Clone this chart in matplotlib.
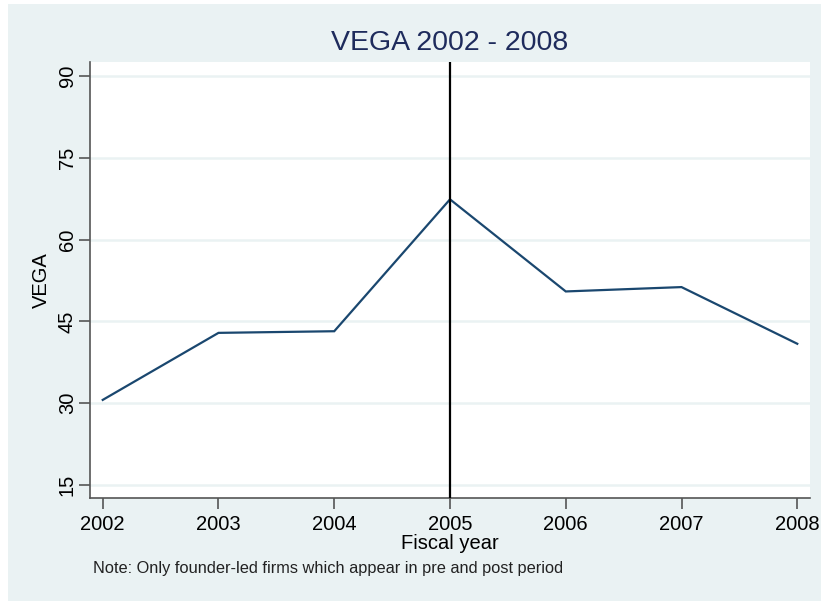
import matplotlib
matplotlib.use("Agg")
import matplotlib.pyplot as plt
from matplotlib.patches import Rectangle

# Data
years = [2002, 2003, 2004, 2005, 2006, 2007, 2008]
vega = [30.6, 42.9, 43.2, 67.4, 50.5, 51.3, 40.9]
y_ticks = [15, 30, 45, 60, 75, 90]
event_year = 2005

BG = "#EAF2F3"
NAVY = "#1A476F"

plt.rcParams["font.family"] = ["Liberation Sans", "DejaVu Sans"]

fig = plt.figure(figsize=(8.21, 6.02), dpi=100, facecolor="white")
W, H = 821, 602
fig.add_artist(Rectangle((8 / W, 1 / H), (W - 8) / W, (H - 5) / H,
                         transform=fig.transFigure, facecolor=BG,
                         edgecolor="none", zorder=-10))

ax = fig.add_axes([90 / W, 1 - 498 / H, 720 / W, 436 / H])
ax.set_zorder(1)
ax.set_facecolor("white")

ax.plot(years, vega, color=NAVY, lw=1.6, solid_joinstyle="miter", zorder=3)
ax.axvline(event_year, color="black", lw=1.6, zorder=4)

ax.set_xlim(2001.89, 2008.11)
ax.set_ylim(12.6, 92.6)
ax.set_xticks(years)
ax.set_yticks(y_ticks)
ax.set_yticklabels([str(v) for v in y_ticks], rotation=90, va="center")
ax.tick_params(axis="both", labelsize=14.5, length=8, width=1.2,
               color="#555555")
ax.tick_params(axis="x", pad=4)
ax.tick_params(axis="y", pad=1.5)
ax.grid(axis="y", color=BG, lw=1.8, zorder=1)

for side in ("top", "right"):
    ax.spines[side].set_visible(False)
for side in ("left", "bottom"):
    ax.spines[side].set_color("#555555")
    ax.spines[side].set_linewidth(1.2)

ax.set_title("VEGA 2002 - 2008", fontsize=20.5, color="#1E2B5C", pad=9)
ax.set_xlabel("Fiscal year", fontsize=14.5, labelpad=0)
ax.set_ylabel("VEGA", fontsize=14.5, labelpad=5)

fig.text(93 / W, 1 - 569 / H,
         "Note: Only founder-led firms which appear in pre and post period",
         fontsize=11.8, va="center", ha="left", color="#222222")

fig.savefig("out.png", dpi=100, facecolor=fig.get_facecolor())
